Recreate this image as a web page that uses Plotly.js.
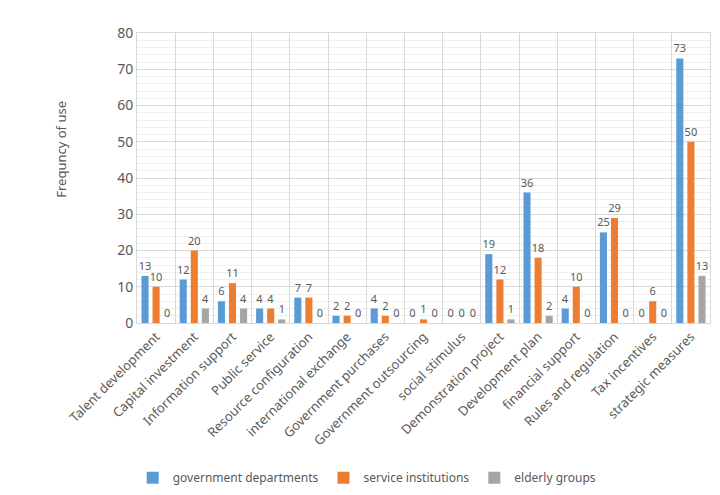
<!DOCTYPE html>
<html>
<head>
<meta charset="utf-8">
<script src="https://cdn.plot.ly/plotly-3.0.1.min.js"></script>
<style>html,body{margin:0;padding:0;background:#fff;}#chart{width:720px;height:495px;}</style>
</head>
<body>
<div id="chart"></div>
<script>
const categories = ["Talent development", "Capital investment", "Information support", "Public service", "Resource configuration", "international exchange", "Government purchases", "Government outsourcing", "social stimulus", "Demonstration project", "Development plan", "financial support", "Rules and regulation", "Tax incentives", "strategic measures"];
const govDepartments = [13, 12, 6, 4, 7, 2, 4, 0, 0, 19, 36, 4, 25, 0, 73];
const serviceInstitutions = [10, 20, 11, 4, 7, 2, 2, 1, 0, 12, 18, 10, 29, 6, 50];
const elderlyGroups = [0, 4, 4, 1, 0, 0, 0, 0, 0, 1, 2, 0, 0, 0, 13];
const seriesNames = ["government departments", "service institutions", "elderly groups"];
const yTicks = [0, 10, 20, 30, 40, 50, 60, 70, 80];
const yTitle = "Frequncy of use";

const colors = ["#5B9BD5", "#ED7D31", "#A5A5A5"];
const font = "Noto Sans, Liberation Sans, sans-serif";
const txtColor = "#595959";

function mk(vals, name, color) {
  return {
    type: "bar", x: categories, y: vals, name: name,
    marker: {color: color},
    text: vals.map(String), textposition: "outside",
    textfont: {size: 11, color: txtColor, family: font},
    constraintext: "none", cliponaxis: false,
    hoverinfo: "x+y+name"
  };
}
const data = [
  mk(govDepartments, seriesNames[0], colors[0]),
  mk(serviceInstitutions, seriesNames[1], colors[1]),
  mk(elderlyGroups, seriesNames[2], colors[2])
];
const layout = {
  width: 720, height: 495,
  margin: {l: 137, r: 10, t: 33, b: 172},
  paper_bgcolor: "#ffffff", plot_bgcolor: "#ffffff",
  barmode: "group", bargap: 0.13, bargroupgap: 0.36,
  font: {family: font, color: txtColor},
  showlegend: true,
  legend: {orientation: "h", xref: "container", yref: "container", x: 0.51, xanchor: "center", y: 0.035, yanchor: "middle",
           font: {size: 12, color: txtColor}, traceorder: "normal", itemwidth: 30},
  xaxis: {
    type: "category", tickson: "boundaries", showgrid: true, gridcolor: "#d9d9d9", gridwidth: 1,
    ticks: "", tickangle: -45, tickfont: {size: 13, color: txtColor},
    showline: true, linecolor: "#d9d9d9", mirror: true, zeroline: false
  },
  yaxis: {
    range: [0, 80], tickvals: yTicks, tickfont: {size: 14, color: txtColor},
    showgrid: true, gridcolor: "#d9d9d9",
    minor: {dtick: 2, showgrid: true, gridcolor: "#efefef", gridwidth: 1},
    showline: true, linecolor: "#d9d9d9", mirror: true, zeroline: false,
    ticks: "", ticklen: 0
  },
  annotations: [{
    text: yTitle, xref: "paper", yref: "paper", x: -0.133, y: 0.6, xanchor: "center", yanchor: "middle",
    textangle: -90, showarrow: false, font: {size: 13, color: txtColor}
  }]
};
Plotly.newPlot("chart", data, layout, {displayModeBar: false, staticPlot: true});
</script>
</body>
</html>
